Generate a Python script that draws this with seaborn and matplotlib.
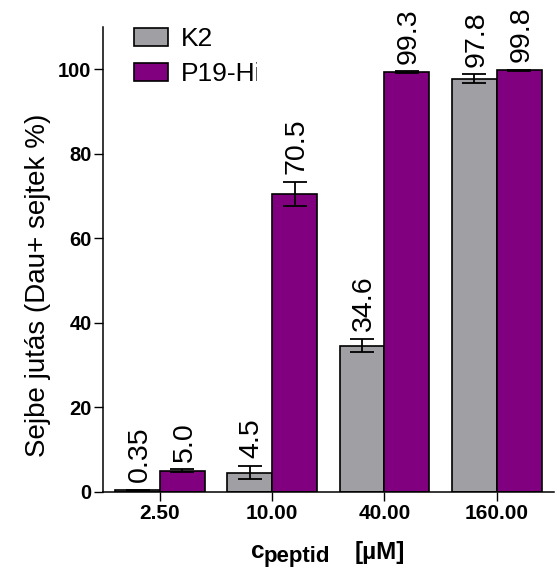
import matplotlib
matplotlib.use("Agg")
import matplotlib.pyplot as plt
from matplotlib.patches import Patch
from matplotlib.transforms import Bbox
import numpy as np
import pandas as pd
import seaborn as sns

# ---- data -------------------------------------------------------------
concentrations = ["2.50", "10.00", "40.00", "160.00"]
peptides = ["K2", "P19-His"]
k2_mean = [0.35, 4.5, 34.6, 97.8]
k2_err = [0.15, 1.6, 1.6, 1.0]
p19_mean = [5.0, 70.5, 99.3, 99.8]
p19_err = [0.3, 2.9, 0.2, 0.1]
y_ticks = [0, 20, 40, 60, 80, 100]

colors = ["#A0A0A4", "#800080"]

# ---- style ------------------------------------------------------------
sns.set_style("ticks")
plt.rcParams["font.family"] = ["Liberation Sans", "DejaVu Sans"]
plt.rcParams.update({"text.color": "black", "axes.labelcolor": "black",
                     "xtick.color": "black", "ytick.color": "black"})

W, H = 557, 572
fig = plt.figure(figsize=(W / 100, H / 100), dpi=100)

ax_left, ax_right, ax_top, ax_bottom = 102.7, 554.0, 27.0, 491.7
ax = fig.add_axes([ax_left / W, (H - ax_bottom) / H,
                   (ax_right - ax_left) / W, (ax_bottom - ax_top) / H])

df = pd.DataFrame({
    "conc": concentrations * 2,
    "peptide": [peptides[0]] * 4 + [peptides[1]] * 4,
    "value": k2_mean + p19_mean,
})

sns.barplot(data=df, x="conc", y="value", hue="peptide",
            order=concentrations, hue_order=peptides,
            palette=colors, saturation=1, edgecolor="black", linewidth=1.2,
            errorbar=None, width=0.8, legend=False, ax=ax)

means = [k2_mean, p19_mean]
errs = [k2_err, p19_err]


def fmt(v):
    return f"{v:.2f}" if v < 1 else f"{v:.1f}"


for container, m_list, e_list in zip(ax.containers, means, errs):
    xs = [b.get_x() + b.get_width() / 2 for b in container]
    ax.errorbar(xs, m_list, yerr=e_list, fmt="none", ecolor="black",
                elinewidth=1.3, capsize=8.3, capthick=1.3, zorder=5)
    for x, m, e in zip(xs, m_list, e_list):
        ax.annotate(fmt(m), (x, m + e), xytext=(1.5, 5.5),
                    textcoords="offset points", rotation=90,
                    ha="center", va="bottom", fontsize=20.5, clip_on=False)

# ---- axes -------------------------------------------------------------
ax.set_ylim(0, 110)
ax.set_xlim(-0.51, 3.51)
ax.set_yticks(y_ticks)
ax.set_yticklabels([str(t) for t in y_ticks], fontweight="bold", fontsize=14.5)
ax.set_xticks(range(len(concentrations)))
ax.set_xticklabels(concentrations, fontweight="bold", fontsize=15)
ax.tick_params(axis="both", length=6.5, width=1.0, color="black")
ax.tick_params(axis="y", pad=1.5)
ax.tick_params(axis="x", pad=2.5)
sns.despine(ax=ax)
for s in ("left", "bottom"):
    ax.spines[s].set_linewidth(1.1)
    ax.spines[s].set_color("black")

ax.set_xlabel("")
ax.set_ylabel("Sejbe jutás (Dau+ sejtek %)", fontsize=20)
ax.yaxis.set_label_coords((51 - ax_left) / (ax_right - ax_left),
                          (ax_bottom - 285) / (ax_bottom - ax_top))

# ---- legend -----------------------------------------------------------
handles = [Patch(facecolor=c, edgecolor="black", linewidth=1.2) for c in colors]
leg = ax.legend(handles, peptides, loc="upper left",
                bbox_to_anchor=(134.3 / W, 1 - 27 / H),
                bbox_transform=fig.transFigure, frameon=False,
                borderpad=0, borderaxespad=0, fontsize=19,
                handlelength=1.27, handleheight=0.67,
                handletextpad=0.5, labelspacing=0.42)
legend_clip = Bbox.from_extents(0, 0, 257, H)
for t in leg.get_texts():
    t.set_clip_box(legend_clip)
    t.set_clip_on(True)

# ---- x axis title: c_peptide [µM] ------------------------------------
fig.text(251 / W, 1 - 558 / H, "c", fontsize=17.5, fontweight="bold",
         ha="left", va="baseline")
sub = fig.text(264 / W, 1 - 562 / H, "peptide", fontsize=16,
               fontweight="bold", ha="left", va="baseline")
sub.set_clip_box(Bbox.from_extents(0, 0, 329, H))
sub.set_clip_on(True)
fig.text(355 / W, 1 - 559 / H, "[µM]", fontsize=17.5, fontweight="bold",
         ha="left", va="baseline")

fig.savefig("out.png", dpi=100)
